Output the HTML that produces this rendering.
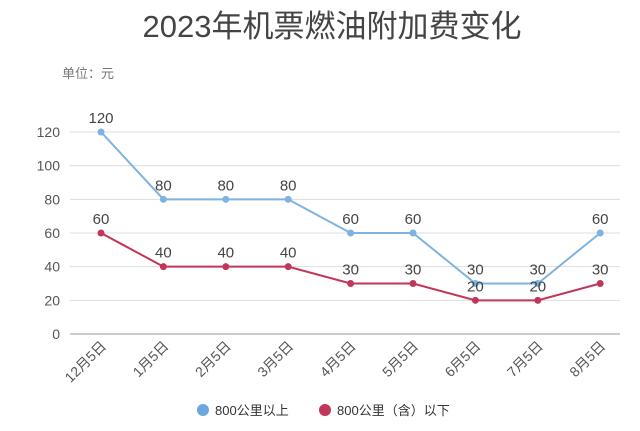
<!DOCTYPE html>
<html><head><meta charset="utf-8">
<style>
body{margin:0;background:#fff;width:640px;height:426px;overflow:hidden;font-family:"Liberation Sans","Noto Sans CJK SC",sans-serif;}
</style></head>
<body>
<svg width="640" height="426" font-family="Liberation Sans, Noto Sans CJK SC, sans-serif">
<text x="332" y="37" text-anchor="middle" font-size="31" fill="#444">2023年机票燃油附加费变化</text>
<text x="62" y="78" font-size="13" fill="#777">单位：元</text>
<g id="grid"></g><g id="series"></g>
<g>
<circle cx="203" cy="410" r="6" fill="#6ca8df"/>
<text x="215" y="415" font-size="13" fill="#333">800公里以上</text>
<circle cx="325" cy="410" r="6" fill="#c2365a"/>
<text x="337" y="415" font-size="13" fill="#333">800公里（含）以下</text>
</g>
</svg>
<script>
const categories=["12月5日","1月5日","2月5日","3月5日","4月5日","5月5日","6月5日","7月5日","8月5日"];
const above800=[120,80,80,80,60,60,30,30,60];
const below800=[60,40,40,40,30,30,20,20,30];
const yTicks=[0,20,40,60,80,100,120];
const NS="http://www.w3.org/2000/svg";
const x=i=>101+i*62.4;
const y=v=>334-v*(202/120);
function mk(t,a,p){const e=document.createElementNS(NS,t);for(const k in a)e.setAttribute(k,a[k]);p.appendChild(e);return e;}
const g=document.getElementById('grid');
yTicks.forEach(v=>{
 const l=mk('line',{x1:70,x2:620,y1:y(v),y2:y(v),stroke:v===0?'#999':'#ddd','stroke-width':1},g);
 
 
 const t=mk('text',{x:60,y:y(v)+5,'text-anchor':'end','font-size':14,fill:'#555'},g);
 t.textContent=v;
 
 
});
categories.forEach((c,i)=>{
 const t=mk('text',{x:x(i)+6,y:347,'text-anchor':'end','font-size':14,fill:'#555',transform:`rotate(-45 ${x(i)+6} 347)`},g);
 t.textContent=c;
 
 
});
const s=document.getElementById('series');
function draw(arr,color,name){
 const pl=mk('polyline',{points:arr.map((v,i)=>x(i)+','+y(v)).join(' '),fill:'none',stroke:color,'stroke-width':2},s);
 
 
 arr.forEach((v,i)=>{
  const c=mk('circle',{cx:x(i),cy:y(v),r:3.5,fill:color},s);
  
  
  const t=mk('text',{x:x(i),y:y(v)-9,'text-anchor':'middle','font-size':15,fill:'#444'},s);
  t.textContent=v;
  
  
 });
}
draw(above800,'#7fb3df','above-800');
draw(below800,'#c2365a','below-800');
</script>
</body></html>
